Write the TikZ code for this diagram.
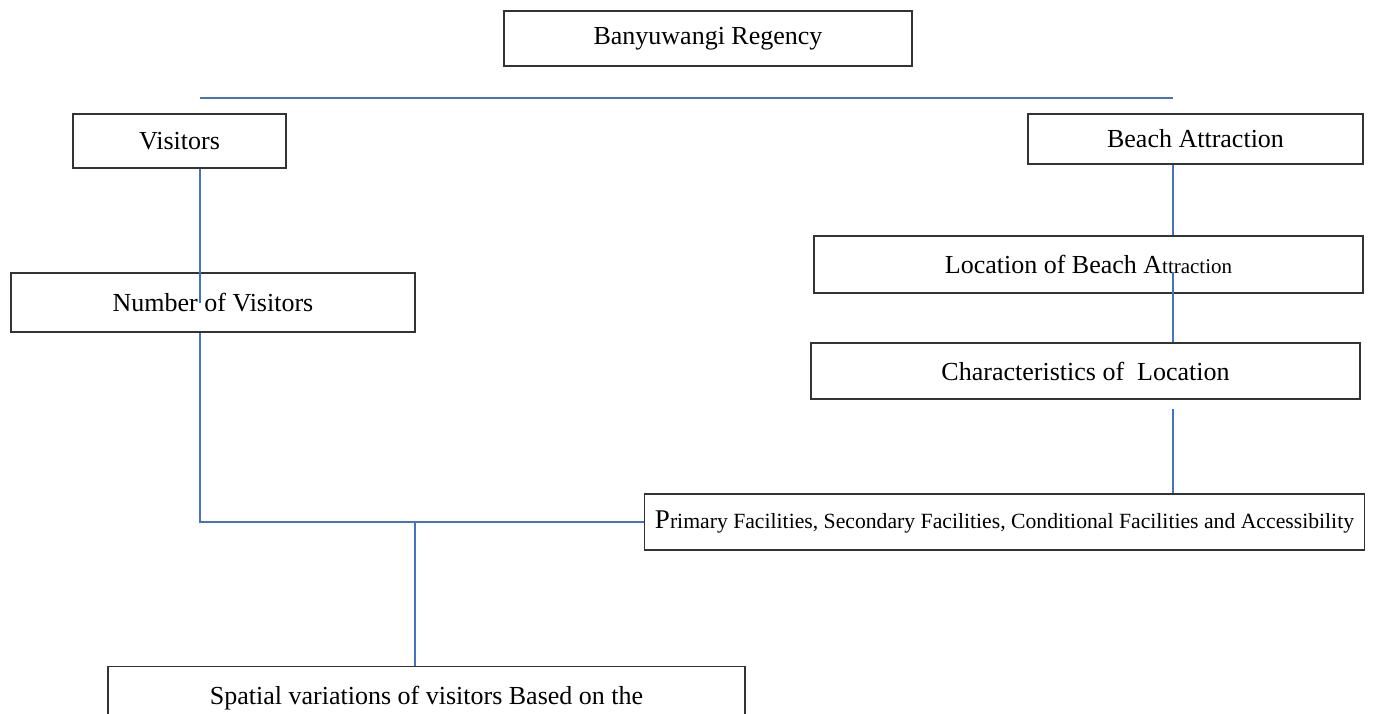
\documentclass[tikz,border=0pt]{standalone}
\usepackage{fontspec}
\setmainfont{Liberation Serif}
\definecolor{lineblue}{HTML}{4472C4}
\definecolor{boxline}{HTML}{333333}
\tikzset{
  box/.style={draw=boxline, line width=1.1pt, fill=white, inner sep=0pt,
    font=\fontsize{26}{30}\selectfont},
  conn/.style={draw=lineblue, line width=1.6pt}
}
\newcommand{\smallsz}{\fontsize{21.7}{25}\selectfont}
\newcommand{\midsz}{\fontsize{21}{25}\selectfont}
\begin{document}
\begin{tikzpicture}[x=1pt,y=-1pt]
\path[use as bounding box, fill=white] (0,0) rectangle (1378,713);
\clip (0,0) rectangle (1378,713);
% nodes
\node[box, minimum width=408pt, minimum height=55pt] (ban) at (708,38.5) {Banyuwangi Regency};
\node[box, minimum width=213pt, minimum height=54pt] (vis) at (179.5,141) {Visitors};
\node[box, minimum width=335pt, minimum height=50pt] (beach) at (1195.5,139) {Beach Attraction};
\node[box, minimum width=404pt, minimum height=59pt] (num) at (213,302.5) {Number of Visitors};
\node[box, minimum width=549pt, minimum height=57pt] (loc) at (1088.5,264.5) {Location of Beach A{\midsz ttraction}};
\node[box, minimum width=549pt, minimum height=56pt] (char) at (1085.5,371) {Characteristics of~~Location};
\node[box, minimum width=720pt, minimum height=56pt] (prim) at (1004.5,522) {{\fontsize{27}{30}\selectfont P}{\smallsz rimary Facilities, Secondary Facilities, Conditional Facilities and Accessibility}};
\node[box, minimum width=637pt, minimum height=64pt, anchor=north] (spat) at (426.5,666) {Spatial variations of visitors Based on the};
% connectors
\coordinate (hl) at (200,98);
\coordinate (hr) at (1173,98);
\draw[conn] (hl) -- (hr);
\draw[conn] (vis.south -| hl) -- (num.center -| hl);
\draw[conn] (num.south -| hl) |- (prim.west);
\coordinate (j) at (415,522);
\draw[conn] (j) -- (j |- spat.north);
\coordinate (bx) at (1173,0);
\draw[conn] (beach.south -| bx) -- (loc.north -| bx);
\coordinate (lm) at (1173,272);
\draw[conn] (lm) -- (char.north -| lm);
\coordinate (cb) at (1173,409);
\draw[conn] (cb) -- (prim.north -| cb);
\end{tikzpicture}
\end{document}
